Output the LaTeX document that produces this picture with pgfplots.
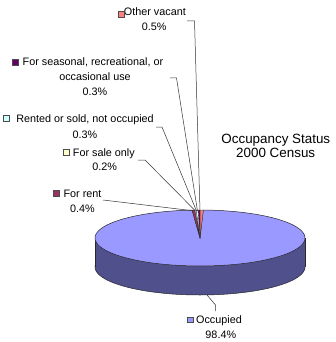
\documentclass[border=0pt]{standalone}
\usepackage{pgfplots}
\pgfplotsset{compat=1.18}
\usepackage{fontspec}
\setmainfont{Liberation Sans}

\definecolor{occ}{RGB}{153,153,255}
\definecolor{occside}{RGB}{80,80,140}
\definecolor{rentc}{RGB}{153,51,102}
\definecolor{salec}{RGB}{255,255,204}
\definecolor{rentedc}{RGB}{204,255,255}
\definecolor{seasc}{RGB}{102,0,102}
\definecolor{otherc}{RGB}{255,128,128}
\definecolor{edge}{RGB}{40,40,40}

% data (percent of housing units)
\def\vOcc{98.4}
\def\vRent{0.4}
\def\vSale{0.2}
\def\vRented{0.3}
\def\vSeas{0.3}
\def\vOther{0.5}

\pgfmathsetmacro\aA{90-3.6*\vOther}
\pgfmathsetmacro\aB{\aA+3.6*\vOther}
\pgfmathsetmacro\aC{\aB+3.6*\vSeas}
\pgfmathsetmacro\aD{\aC+3.6*\vRented}
\pgfmathsetmacro\aE{\aD+3.6*\vSale}
\pgfmathsetmacro\aF{\aE+3.6*\vRent}
\pgfmathsetmacro\aG{\aA+360}

\newcommand\lbl{\fontsize{10.8}{12}\selectfont}
\newcommand\ttl{\fontsize{13.4}{15}\selectfont}

\begin{document}
\begin{tikzpicture}
\begin{axis}[
  scale only axis, width=336pt, height=342pt,
  xmin=0, xmax=336, ymin=0, ymax=342, y dir=reverse,
  hide axis, clip=false,
]
% side of the pie
\addplot[fill=occside, draw=edge, line width=0.5pt, domain=0:360, samples=121] ({200+105*cos(x)},{267-28*sin(x)}) -- cycle;
\addplot[fill=occside, draw=none] coordinates {(95,238) (305,238) (305,267) (95,267)} -- cycle;
\addplot[draw=edge, line width=0.5pt] coordinates {(95,238) (95,267)};
\addplot[draw=edge, line width=0.5pt] coordinates {(305,238) (305,267)};
% top slices
\addplot[fill=occ, draw=edge, line width=0.5pt, domain=\aF:\aG, samples=151] ({200+105*cos(x)},{238-28*sin(x)}) -- (axis cs:200,238) -- cycle;
\addplot[fill=otherc, draw=edge, line width=0.3pt, domain=\aA:\aB, samples=3] ({200+105*cos(x)},{238-28*sin(x)}) -- (axis cs:200,238) -- cycle;
\addplot[fill=seasc, draw=edge, line width=0.3pt, domain=\aB:\aC, samples=3] ({200+105*cos(x)},{238-28*sin(x)}) -- (axis cs:200,238) -- cycle;
\addplot[fill=rentedc, draw=edge, line width=0.3pt, domain=\aC:\aD, samples=3] ({200+105*cos(x)},{238-28*sin(x)}) -- (axis cs:200,238) -- cycle;
\addplot[fill=salec, draw=edge, line width=0.3pt, domain=\aD:\aE, samples=3] ({200+105*cos(x)},{238-28*sin(x)}) -- (axis cs:200,238) -- cycle;
\addplot[fill=rentc, draw=edge, line width=0.3pt, domain=\aE:\aF, samples=3] ({200+105*cos(x)},{238-28*sin(x)}) -- (axis cs:200,238) -- cycle;

% leader lines
\addplot[draw=black!80, line width=0.5pt] coordinates {(187,21) (194.5,21) (200,211)};
\addplot[draw=black!80, line width=0.5pt] coordinates {(170,78) (176.5,78) (197.5,211)};
\addplot[draw=black!80, line width=0.5pt] coordinates {(156,127) (162,127) (196.5,211)};
\addplot[draw=black!80, line width=0.5pt] coordinates {(138,160) (145,160) (195.5,211)};
\addplot[draw=black!80, line width=0.5pt] coordinates {(103,200) (195,211)};
\addplot[draw=black!80, line width=0.5pt] coordinates {(207,295) (215.5,305) (215.5,311)};

% label keys
\addplot[only marks, mark=square*, mark size=2.9pt, mark options={fill=otherc, draw=black!70, line width=0.4pt}] coordinates {(121.5,14)};
\addplot[only marks, mark=square*, mark size=2.9pt, mark options={fill=seasc, draw=black!70, line width=0.4pt}] coordinates {(15.5,62)};
\addplot[only marks, mark=square*, mark size=2.9pt, mark options={fill=rentedc, draw=black!70, line width=0.4pt}] coordinates {(6.5,118.5)};
\addplot[only marks, mark=square*, mark size=2.9pt, mark options={fill=salec, draw=black!70, line width=0.4pt}] coordinates {(66,152.5)};
\addplot[only marks, mark=square*, mark size=2.9pt, mark options={fill=rentc, draw=black!70, line width=0.4pt}] coordinates {(56,193)};
\addplot[only marks, mark=square*, mark size=2.9pt, mark options={fill=occ, draw=black!70, line width=0.4pt}] coordinates {(190,319.7)};

% labels
\node[anchor=base, font=\lbl, inner sep=0pt] at (axis cs:154.9,15.9) {Other vacant};
\node[anchor=base, font=\lbl, inner sep=0pt] at (axis cs:154.2,30.2) {0.5\%};
\node[anchor=base, font=\lbl, inner sep=0pt] at (axis cs:92.9,65.6) {For seasonal, recreational, or};
\node[anchor=base, font=\lbl, inner sep=0pt] at (axis cs:95,80.6) {occasional use};
\node[anchor=base, font=\lbl, inner sep=0pt] at (axis cs:95,95.6) {0.3\%};
\node[anchor=base, font=\lbl, inner sep=0pt] at (axis cs:85,122.9) {Rented or sold, not occupied};
\node[anchor=base, font=\lbl, inner sep=0pt] at (axis cs:85,138.2) {0.3\%};
\node[anchor=base, font=\lbl, inner sep=0pt] at (axis cs:103.9,156.6) {For sale only};
\node[anchor=base, font=\lbl, inner sep=0pt] at (axis cs:104.7,170.9) {0.2\%};
\node[anchor=base, font=\lbl, inner sep=0pt] at (axis cs:82.5,197.2) {For rent};
\node[anchor=base, font=\lbl, inner sep=0pt] at (axis cs:82.5,212) {0.4\%};
\node[anchor=base, font=\lbl, inner sep=0pt] at (axis cs:219,323.2) {Occupied};
\node[anchor=base, font=\lbl, inner sep=0pt] at (axis cs:220.8,338.9) {98.4\%};
\node[anchor=base, font=\ttl, inner sep=0pt] at (axis cs:275.8,143.1) {Occupancy Status};
\node[anchor=base, font=\ttl, inner sep=0pt] at (axis cs:275.7,157.5) {2000 Census};
\end{axis}
\pgfresetboundingbox
\useasboundingbox (current axis.south west) rectangle (current axis.north east);
\end{tikzpicture}
\end{document}
